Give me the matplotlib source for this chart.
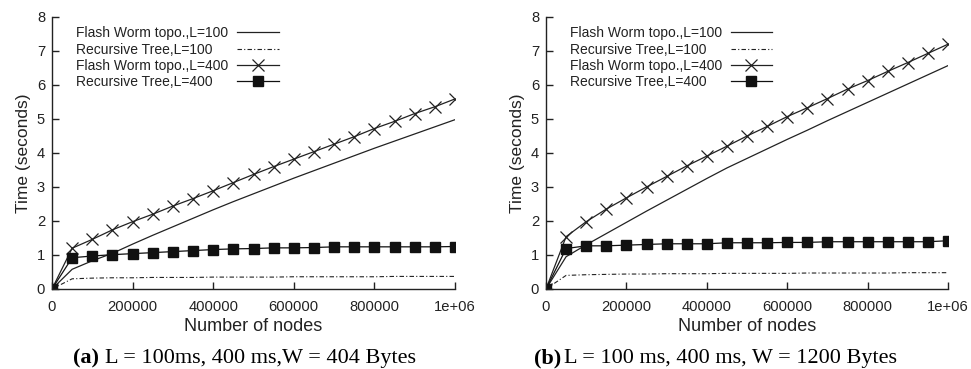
import numpy as np
import matplotlib
matplotlib.use("Agg")
import matplotlib.pyplot as plt

# number of nodes (x axis), same for both panels
nodes = [0, 50000, 100000, 150000, 200000, 250000, 300000, 350000, 400000, 450000,
         500000, 550000, 600000, 650000, 700000, 750000, 800000, 850000, 900000, 950000, 1000000]

# panel (a): W = 404 Bytes
a_flash_100 = [0, 0.58, 0.83, 1.05, 1.32, 1.58, 1.83, 2.08, 2.33, 2.57,
               2.80, 3.03, 3.26, 3.48, 3.70, 3.92, 4.14, 4.35, 4.56, 4.77, 4.98]
a_tree_100 = [0, 0.30, 0.32, 0.33, 0.33, 0.34, 0.34, 0.34, 0.35, 0.35,
              0.35, 0.35, 0.36, 0.36, 0.36, 0.36, 0.36, 0.37, 0.37, 0.37, 0.37]
a_flash_400 = [0, 1.20, 1.46, 1.74, 1.98, 2.20, 2.44, 2.66, 2.89, 3.13,
               3.37, 3.60, 3.82, 4.04, 4.26, 4.48, 4.72, 4.93, 5.16, 5.36, 5.59]
a_tree_400 = [0, 0.92, 0.97, 1.01, 1.04, 1.07, 1.10, 1.13, 1.16, 1.18,
              1.19, 1.21, 1.21, 1.22, 1.24, 1.24, 1.24, 1.24, 1.24, 1.24, 1.25]

# panel (b): W = 1200 Bytes
b_flash_100 = [0, 0.95, 1.30, 1.63, 1.96, 2.29, 2.61, 2.93, 3.25, 3.56,
               3.84, 4.12, 4.40, 4.67, 4.95, 5.22, 5.49, 5.76, 6.03, 6.30, 6.57]
b_tree_100 = [0, 0.40, 0.42, 0.43, 0.44, 0.44, 0.45, 0.45, 0.45, 0.46,
              0.46, 0.46, 0.46, 0.47, 0.47, 0.47, 0.47, 0.47, 0.48, 0.48, 0.48]
b_flash_400 = [0, 1.54, 1.98, 2.35, 2.68, 3.00, 3.31, 3.62, 3.91, 4.20,
               4.50, 4.78, 5.07, 5.33, 5.60, 5.88, 6.13, 6.40, 6.66, 6.93, 7.20]
b_tree_400 = [0, 1.19, 1.27, 1.27, 1.29, 1.31, 1.33, 1.33, 1.33, 1.36,
              1.36, 1.36, 1.37, 1.37, 1.39, 1.39, 1.39, 1.39, 1.39, 1.39, 1.42]

labels = ["Flash Worm topo.,L=100", "Recursive Tree,L=100",
          "Flash Worm topo.,L=400", "Recursive Tree,L=400"]
xticks = [0, 200000, 400000, 600000, 800000, 1000000]
xticklabels = ["0", "200000", "400000", "600000", "800000", "1e+06"]

plt.rcParams['font.family'] = ['Liberation Sans', 'DejaVu Sans']

fig = plt.figure(figsize=(9.71, 3.69), dpi=100)
W, H = 971, 369
LEG_FS = 10


def panel(left_px, right_px, series):
    ax = fig.add_axes([left_px / W, 1 - 289 / H, (right_px - left_px) / W, 272 / H])
    f100, t100, f400, t400 = series
    l1, = ax.plot(nodes, f100, color='#222222', lw=0.9)
    l2, = ax.plot(nodes, t100, color='#222222', lw=0.8, dashes=(4, 2, 1, 2))
    l3, = ax.plot(nodes, f400, color='#222222', lw=0.9, marker='x', ms=8, mew=0.9)
    l4, = ax.plot(nodes, t400, color='#111111', lw=0.9, marker='s', ms=7)
    ax.set_xlim(0, 1000000)
    ax.set_ylim(0, 8)
    ax.set_xticks(xticks)
    ax.set_xticklabels(xticklabels)
    ax.set_yticks(range(0, 9))
    ax.spines['top'].set_visible(False)
    ax.spines['right'].set_visible(False)
    for s in ['left', 'bottom']:
        ax.spines[s].set_linewidth(1.0)
        ax.spines[s].set_color('#222222')
    ax.tick_params(direction='in', length=5, width=1.0, labelsize=10.6, colors='#222222')
    ax.tick_params(axis='x', pad=8)
    ax.tick_params(axis='y', pad=5)
    ax.set_xlabel("Number of nodes", fontsize=13, color='#222222', labelpad=3)
    ax.set_ylabel("Time (seconds)", fontsize=12.5, color='#222222', labelpad=4)

    # gnuplot-style key: left-aligned texts, samples in a column to their right
    handles = [l1, l2, l3, l4]
    blank = [plt.Line2D([], [], lw=0) for _ in handles]
    leg_txt = ax.legend(blank, labels, loc='upper left', bbox_to_anchor=(0.06, 0.966),
                        frameon=False, fontsize=LEG_FS, handlelength=0, handletextpad=0,
                        labelspacing=0.17, borderpad=0, borderaxespad=0)
    for t in leg_txt.get_texts():
        t.set_color('#222222')
    ax.add_artist(leg_txt)
    ax.legend(handles, [""] * 4, loc='upper left', bbox_to_anchor=(0.459, 0.966),
              frameon=False, fontsize=LEG_FS, handlelength=3.0, handletextpad=0,
              labelspacing=0.17, borderpad=0, borderaxespad=0)
    return ax


panel(52, 455, (a_flash_100, a_tree_100, a_flash_400, a_tree_400))
panel(546, 948, (b_flash_100, b_tree_100, b_flash_400, b_tree_400))

cap_y = 1 - 358 / H
serif = ['Liberation Serif', 'DejaVu Serif']
fig.text(73 / W, cap_y, "(a)", family=serif, weight='bold', fontsize=16, va='center', ha='left')
fig.text(105 / W, cap_y, "L = 100ms, 400 ms,W = 404 Bytes", family=serif, fontsize=16,
         va='center', ha='left')
fig.text(534 / W, cap_y, "(b)", family=serif, weight='bold', fontsize=16, va='center', ha='left')
fig.text(564 / W, cap_y, "L = 100 ms, 400 ms, W = 1200 Bytes", family=serif, fontsize=16,
         va='center', ha='left')

fig.savefig("out.png", dpi=100)
